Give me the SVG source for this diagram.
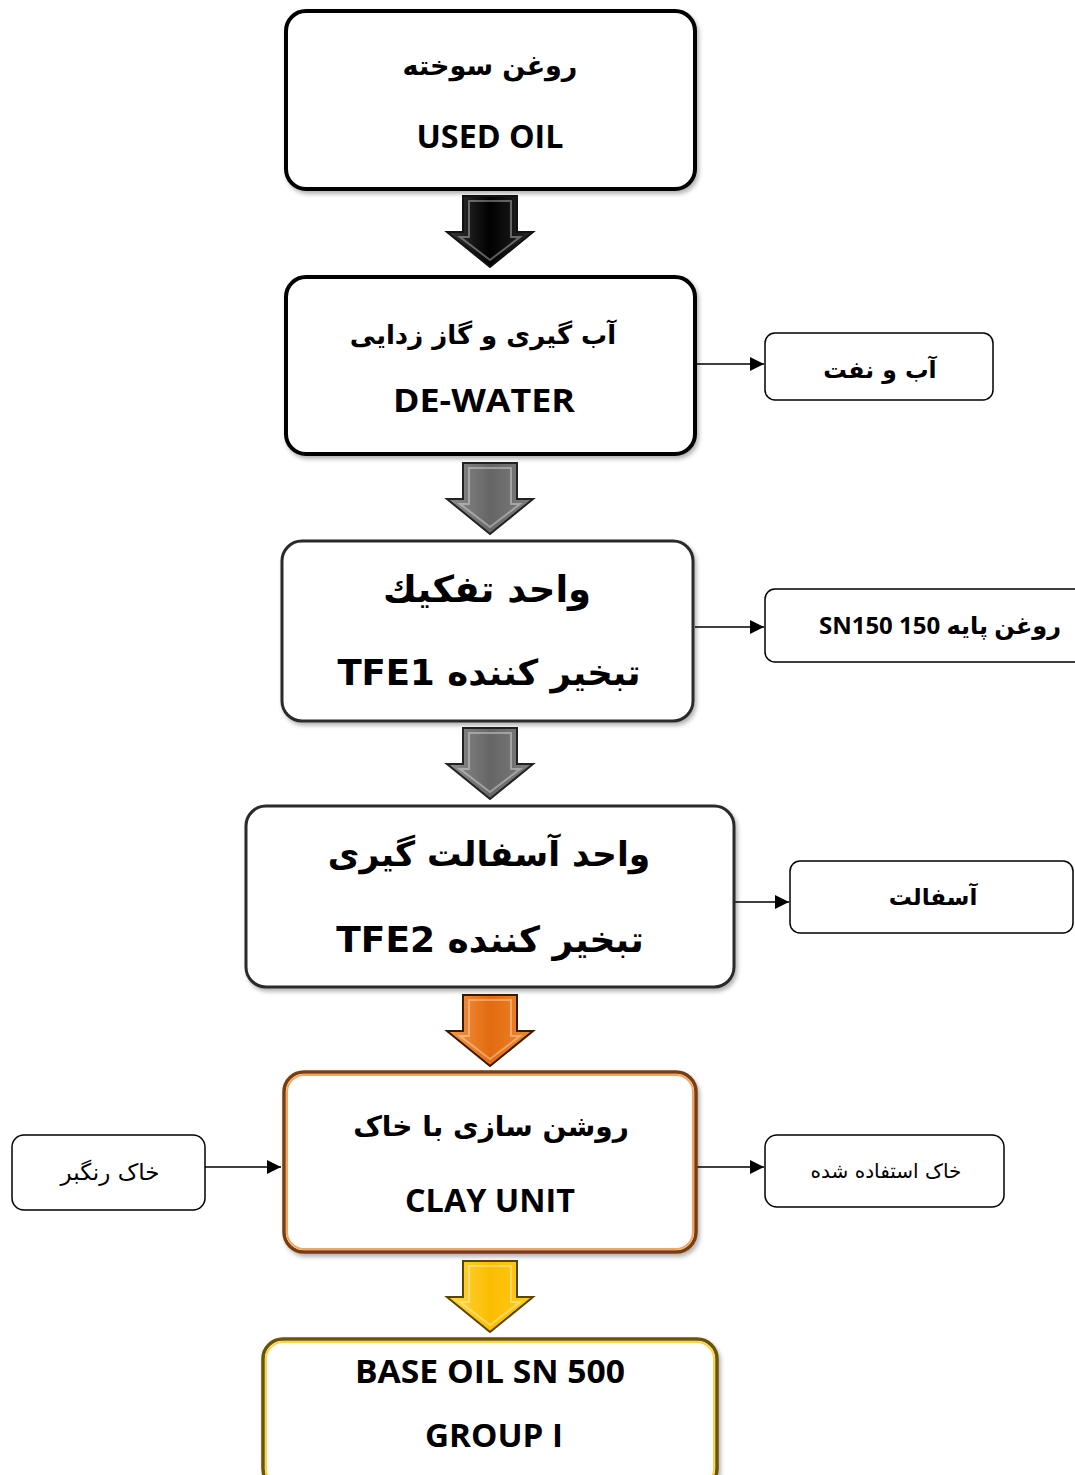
<svg xmlns="http://www.w3.org/2000/svg" xmlns:xlink="http://www.w3.org/1999/xlink" width="1075" height="1475" viewBox="0 0 1075 1475">
<style>
.lat{font-family:"Open Sans","DejaVu Sans",sans-serif;font-weight:bold;font-size:33px;fill:#000;text-anchor:middle}
.ar{font-family:"DejaVu Sans",sans-serif;font-weight:bold;fill:#000;text-anchor:middle}
.arr{font-family:"DejaVu Sans",sans-serif;fill:#000;text-anchor:middle}
.side{fill:#fff;stroke:#000;stroke-width:1.5}
.conn{stroke:#000;stroke-width:1.6;fill:none;marker-end:url(#ah)}
.bevel{fill:none;stroke:#fff;stroke-opacity:0.35;stroke-width:2}
</style>
<defs>
<marker id="ah" markerUnits="userSpaceOnUse" markerWidth="14" markerHeight="14" refX="14" refY="7" orient="auto">
<path d="M0,0 L14,7 L0,14 Z" fill="#000"/>
</marker>
<filter id="sh" x="-5%" y="-5%" width="112%" height="115%">
<feDropShadow dx="2" dy="3" stdDeviation="2" flood-color="#000" flood-opacity="0.3"/>
</filter>
<linearGradient id="gBlack" x1="0" y1="0" x2="1" y2="0">
<stop offset="0" stop-color="#3a3a3a"/><stop offset="0.5" stop-color="#000"/><stop offset="1" stop-color="#2a2a2a"/>
</linearGradient>
<linearGradient id="gGray" x1="0" y1="0" x2="1" y2="0">
<stop offset="0" stop-color="#8e8e8e"/><stop offset="0.5" stop-color="#666"/><stop offset="1" stop-color="#7e7e7e"/>
</linearGradient>
<linearGradient id="gOrange" x1="0" y1="0" x2="1" y2="0">
<stop offset="0" stop-color="#f59a4a"/><stop offset="0.5" stop-color="#e26b10"/><stop offset="1" stop-color="#ef8a30"/>
</linearGradient>
<linearGradient id="gYellow" x1="0" y1="0" x2="1" y2="0">
<stop offset="0" stop-color="#ffd84a"/><stop offset="0.5" stop-color="#fbbd00"/><stop offset="1" stop-color="#ffcc20"/>
</linearGradient>
<path id="bigArrow" d="M-27,0 H27 V36 H43 L0,71 L-43,36 H-27 Z"/>
<path id="bigArrowIn" d="M-21,5 H21 V41 H30 L0,64 L-30,41 H-21 Z"/>
</defs>

<g id="flow-arrows">
<use xlink:href="#bigArrow" x="490" y="196" fill="url(#gBlack)" stroke="#111" stroke-width="2"/>
<use xlink:href="#bigArrowIn" x="490" y="196" class="bevel"/>
<use xlink:href="#bigArrow" x="490" y="463" fill="url(#gGray)" stroke="#222" stroke-width="2"/>
<use xlink:href="#bigArrowIn" x="490" y="463" class="bevel"/>
<use xlink:href="#bigArrow" x="490" y="728" fill="url(#gGray)" stroke="#222" stroke-width="2"/>
<use xlink:href="#bigArrowIn" x="490" y="728" class="bevel"/>
<use xlink:href="#bigArrow" x="490" y="995" fill="url(#gOrange)" stroke="#3a1a00" stroke-width="2"/>
<use xlink:href="#bigArrowIn" x="490" y="995" class="bevel"/>
<use xlink:href="#bigArrow" x="490" y="1261" fill="url(#gYellow)" stroke="#5a4500" stroke-width="2"/>
<use xlink:href="#bigArrowIn" x="490" y="1261" class="bevel"/>
</g>

<g id="connectors">
<line class="conn" x1="697" y1="364" x2="764" y2="364"/>
<line class="conn" x1="695" y1="627" x2="764" y2="627"/>
<line class="conn" x1="735" y1="902" x2="789" y2="902"/>
<line class="conn" x1="205" y1="1167" x2="281" y2="1167"/>
<line class="conn" x1="697" y1="1167" x2="764" y2="1167"/>
</g>

<g id="n1">
<rect x="286" y="11" width="409" height="178" rx="20" fill="#fff" stroke="#000" stroke-width="4" filter="url(#sh)"/>
<text class="ar" x="490" y="75" style="font-size:27px">روغن سوخته</text>
<text class="lat" x="490" y="148" textLength="147" lengthAdjust="spacingAndGlyphs">USED OIL</text>
</g>

<g id="n2">
<rect x="286" y="277" width="409" height="177" rx="20" fill="#fff" stroke="#000" stroke-width="4" filter="url(#sh)"/>
<text class="ar" x="483" y="344" style="font-size:26px">آب گیری و گاز زدایی</text>
<text class="lat" x="484" y="412" textLength="182" lengthAdjust="spacingAndGlyphs">DE-WATER</text>
</g>

<g id="n3">
<rect x="282" y="541" width="411" height="180" rx="20" fill="#fff" stroke="#2a2a2a" stroke-width="3" filter="url(#sh)"/>
<text class="ar" x="487" y="602" style="font-size:37px">واحد تفکیك</text>
<text class="ar" x="489" y="685" style="font-size:35.5px" direction="rtl">تبخیر کننده  TFE1</text>
</g>

<g id="n4">
<rect x="246" y="806" width="488" height="181" rx="20" fill="#fff" stroke="#2a2a2a" stroke-width="3" filter="url(#sh)"/>
<text class="ar" x="489" y="866" style="font-size:34.5px">واحد آسفالت گیری</text>
<text class="ar" x="490" y="952" style="font-size:36px" direction="rtl">تبخیر کننده  TFE2</text>
</g>

<g id="n5">
<rect x="284" y="1072" width="412" height="180" rx="20" fill="#fff" stroke="#7a3c10" stroke-width="3.5" filter="url(#sh)"/>
<rect x="287" y="1075" width="406" height="174" rx="17" fill="none" stroke="#f2a660" stroke-width="2"/>
<text class="ar" x="491" y="1136" style="font-size:28px">روشن سازی با خاک</text>
<text class="lat" x="490" y="1212" textLength="170" lengthAdjust="spacingAndGlyphs">CLAY UNIT</text>
</g>

<g id="n6">
<rect x="263" y="1339" width="454" height="150" rx="20" fill="#fff" stroke="#6a5500" stroke-width="3.5" filter="url(#sh)"/>
<rect x="266" y="1342" width="448" height="144" rx="17" fill="none" stroke="#ffd24a" stroke-width="2"/>
<text class="lat" x="490" y="1383" textLength="270" lengthAdjust="spacingAndGlyphs">BASE OIL SN 500</text>
<text class="lat" x="494" y="1447" textLength="138" lengthAdjust="spacingAndGlyphs">GROUP I</text>
</g>

<g id="s1">
<rect class="side" x="765" y="333" width="228" height="67" rx="10"/>
<text class="ar" x="880" y="378" style="font-size:23.5px">آب و نفت</text>
</g>

<g id="s2">
<rect class="side" x="765" y="589" width="330" height="73" rx="10"/>
<text class="ar" x="940" y="634" direction="rtl" style="font-family:'Open Sans','DejaVu Sans',sans-serif;font-size:24px">روغن پایه 150 SN150</text>
</g>

<g id="s3">
<rect class="side" x="790" y="861" width="283" height="72" rx="10"/>
<text class="ar" x="933" y="905" style="font-size:23px">آسفالت</text>
</g>

<g id="s4">
<rect class="side" x="12" y="1135" width="193" height="75" rx="12"/>
<text class="arr" x="110" y="1180" style="font-size:23px">خاک رنگبر</text>
</g>

<g id="s5">
<rect class="side" x="765" y="1135" width="239" height="72" rx="12"/>
<text class="arr" x="886" y="1178" style="font-size:20px">خاک استفاده شده</text>
</g>
</svg>
